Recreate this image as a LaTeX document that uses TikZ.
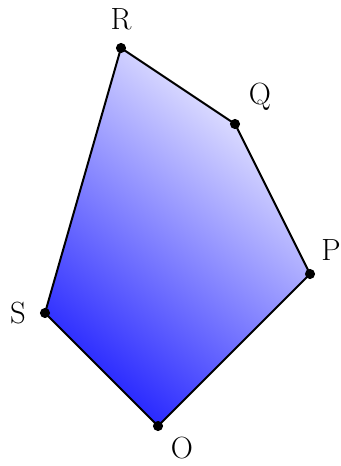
\documentclass[tikz,border=0pt]{standalone}
\usepackage{amsmath}

\begin{document}
\begin{tikzpicture}[x=0.75pt, y=-0.75pt, font=\fontsize{23}{27}\selectfont]
  \useasboundingbox (0,0) rectangle (341,466);
  \coordinate (O) at (158,426);
  \coordinate (P) at (310,274);
  \coordinate (Q) at (235,124);
  \coordinate (R) at (121,48);
  \coordinate (S) at (45,313);
  \shade[top color=blue!5, bottom color=blue!85, shading angle=-40]
    (O) -- (P) -- (Q) -- (R) -- (S) -- cycle;
  \draw[line width=1.5pt, line join=round] (O) -- (P) -- (Q) -- (R) -- (S) -- cycle;
  \foreach \v in {O, P, Q, R, S} {
    \fill (\v) circle (3.8pt);
  }
  \node[inner sep=0pt] (lO) at (182,448) {O};
  \node[inner sep=0pt] (lP) at (331,250) {P};
  \node[inner sep=0pt] (lQ) at (260,97) {Q};
  \node[inner sep=0pt] (lR) at (121,19) {R};
  \node[inner sep=0pt] (lS) at (18,313) {S};
\end{tikzpicture}
\end{document}
